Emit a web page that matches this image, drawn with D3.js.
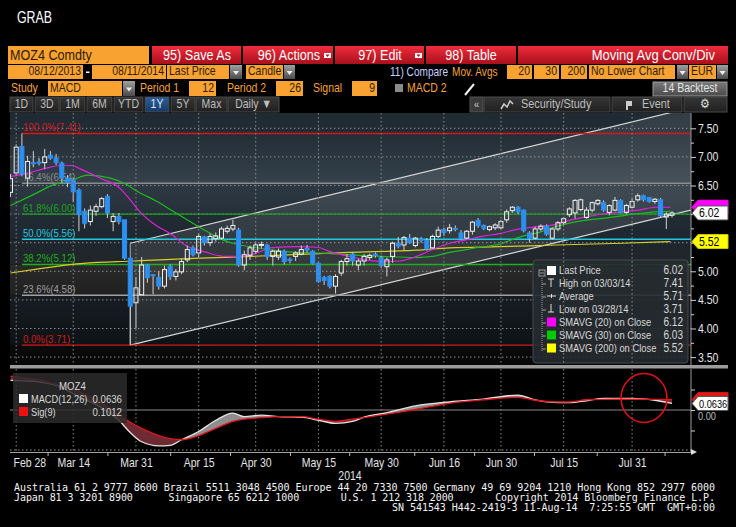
<!DOCTYPE html>
<html><head>
<meta charset="utf-8">
<title>MOZ4 Comdty - MACD</title>
<script src="https://d3js.org/d3.v7.min.js"></script>
<style>
  body { margin:0; background:#000; }
  svg { display:block; font-family:"Liberation Sans", Arial, sans-serif; }
  .mono { font-family:"DejaVu Sans Mono", monospace; white-space:pre; }
</style>
</head>
<body>
<svg id="grab" width="736" height="527"></svg>
<script>

// ---- data ----
const opens  = [6.38,6.72,7.18,6.63,6.90,6.91,6.90,7.03,6.98,6.89, 6.63,6.60,6.42,6.05,5.87,6.05,6.13,6.31,5.87,5.96,
                5.90,5.23,4.45,4.59,5.11,4.94,4.89,4.74,5.09,4.91, 4.99,5.20,5.41,5.32,5.60,5.50,5.57,5.58,5.70,5.74,
                5.72,5.11,5.28,5.35,5.46,5.46,5.26,5.25,5.35,5.21, 5.26,5.30,5.40,5.35,5.14,4.89,4.91,4.74,4.97,5.17,
                5.30,5.11,5.18,5.24,5.30,5.24,5.08,5.26,5.49,5.46, 5.58,5.45,5.56,5.54,5.41,5.61,5.73,5.71,5.75,5.67,
                5.58,5.70,5.89,5.80,5.73,5.76,5.76,5.90,6.06,6.12, 6.07,5.67,5.58,5.74,5.79,5.58,5.74,5.85,5.99,6.02,
                6.08,5.94,6.07,6.18,6.20,6.03,6.07,6.24,6.03,6.12, 6.25,6.32,6.29,6.22,6.25,5.95,5.98];
const highs  = [6.70,7.22,7.41,7.02,7.10,6.98,7.14,7.10,7.05,6.92, 6.68,6.63,6.45,6.10,6.15,6.18,6.30,6.35,6.02,6.02,
                5.90,5.23,4.90,5.25,5.13,4.95,5.00,5.10,5.12,5.04, 5.22,5.45,5.45,5.66,5.62,5.66,5.68,5.78,5.80,5.90,
                5.76,5.36,5.45,5.50,5.52,5.48,5.38,5.40,5.38,5.24, 5.35,5.45,5.46,5.37,5.16,4.92,4.93,4.95,5.20,5.30,
                5.33,5.22,5.30,5.31,5.33,5.27,5.24,5.52,5.60,5.62, 5.65,5.60,5.60,5.58,5.64,5.78,5.76,5.83,5.80,5.72,
                5.72,5.88,5.93,5.82,5.80,5.84,5.90,6.08,6.14,6.14, 6.08,5.70,5.78,5.82,5.82,5.76,5.88,5.95,6.12,6.26,
                6.27,6.12,6.22,6.26,6.24,6.17,6.30,6.26,6.18,6.27, 6.36,6.34,6.30,6.28,6.28,6.03,6.05];
const lows   = [6.30,6.68,6.66,6.48,6.82,6.85,6.79,6.95,6.86,6.55, 6.47,6.22,5.70,5.75,5.80,5.97,6.10,5.93,5.70,5.82,
                5.20,3.71,4.00,4.59,4.80,4.60,4.68,4.70,4.85,4.84, 4.95,5.16,5.26,5.25,5.45,5.44,5.52,5.55,5.66,5.70,
                5.08,5.02,5.20,5.30,5.40,5.20,5.10,5.20,5.12,5.14, 5.18,5.28,5.33,5.12,4.80,4.76,4.70,4.61,4.92,5.10,
                5.10,5.02,5.10,5.20,5.24,5.06,4.91,5.15,5.40,5.36, 5.48,5.42,5.50,5.36,5.40,5.58,5.62,5.66,5.70,5.56,
                5.56,5.64,5.76,5.72,5.70,5.72,5.74,5.85,6.02,6.00, 5.68,5.50,5.56,5.70,5.62,5.55,5.70,5.82,5.95,5.92,
                6.05,5.92,6.03,6.15,6.04,5.98,6.05,6.01,6.00,6.10, 6.22,6.22,6.20,6.18,5.94,5.74,5.94];
const closes = [6.62,7.17,6.70,6.92,6.88,6.89,7.00,6.98,6.90,6.63, 6.55,6.39,5.99,5.84,6.07,6.13,6.27,6.02,5.96,5.87,
                5.23,4.39,4.71,5.11,4.89,4.92,4.74,5.03,4.91,4.99, 5.17,5.38,5.29,5.61,5.50,5.61,5.62,5.74,5.75,5.80,
                5.11,5.29,5.41,5.46,5.47,5.26,5.35,5.35,5.17,5.19, 5.32,5.38,5.37,5.14,4.82,4.84,4.74,4.91,5.17,5.22,
                5.18,5.18,5.26,5.28,5.28,5.10,5.20,5.49,5.44,5.59, 5.50,5.58,5.54,5.39,5.61,5.72,5.68,5.76,5.73,5.58,
                5.70,5.86,5.80,5.75,5.78,5.81,5.87,6.04,6.12,6.04, 5.71,5.58,5.74,5.79,5.65,5.74,5.85,5.92,6.09,6.24,
                6.25,6.07,6.20,6.24,6.07,6.15,6.24,6.03,6.15,6.22, 6.32,6.25,6.22,6.26,5.97,6.00,6.02];

// moving averages, sampled along the bar index
const sma20Idx = [0,2.3,5.8,8.7,10.8,12.2,15.7,19.2,21,22.7,25.4,28.3,30.6,34.1,37.6,40.5,43.4,45.5,50.7,53.7,56.5,59.4,62.4,65.2,68.2,71.2,74,77,79.9,82.7,85.7,89.7,92.7,95.6,98.4,101.4,104.4,107.2,110.1,113.1,115.7];
const sma20Val = [6.66,6.70,6.79,6.85,6.85,6.79,6.63,6.45,6.25,6.04,5.81,5.64,5.46,5.34,5.26,5.26,5.33,5.41,5.43,5.42,5.33,5.26,5.20,5.17,5.18,5.26,5.38,5.49,5.55,5.61,5.66,5.75,5.78,5.82,5.90,5.96,6.01,6.04,6.07,6.12,6.12];
const sma30Idx = [0,4,7.5,11,13.5,17.5,20.5,22.2,25.7,28.5,31.5,34.4,37.2,40.2,42,47.7,53.7,59.4,65.2,71.2,74,77,79.9,82.7,85.7,87,89.7,92.7,95.6,98.4,101.4,104.4,107.2,110.1,113.1,115.7];
const sma30Val = [6.15,6.34,6.51,6.60,6.68,6.63,6.51,6.40,6.22,6.05,5.87,5.70,5.55,5.46,5.43,5.35,5.32,5.29,5.26,5.24,5.26,5.33,5.38,5.43,5.47,5.52,5.61,5.68,5.78,5.85,5.90,5.93,5.97,6.01,6.04,6.05];
const sma200Idx = [0,12.8,21.5,33.2,42,59.4,71.2,77,85.7,95.6,107.2,115.7];
const sma200Val = [4.97,5.14,5.18,5.23,5.26,5.33,5.37,5.41,5.43,5.46,5.49,5.52];

// fibonacci retracement from the 03/03 high to the 03/28 low
const fibPct = ["100.0%","76.4%","61.8%","50.0%","38.2%","23.6%","0.0%"];
const fibVal = [7.41,6.54,6.00,5.56,5.12,4.58,3.71];

// trend channel
const channelIdx  = [21,119.3];
const channelLow  = [3.71,6.07];
const channelHigh = [5.49,7.86];

// MACD study
const macdIdx = [0,4,8,12,16,19,21,23,26,28,30,33,36,39,41,44,47,51,54,57,60,62,66,71,77,83,89,92,95,98,101,104,109,113,116];
const macdVal = [0.29,0.28,0.24,0.13,0.02,-0.10,-0.22,-0.31,-0.35,-0.345,-0.29,-0.21,-0.10,-0.03,-0.065,-0.05,-0.065,-0.07,-0.10,-0.13,-0.11,-0.07,-0.026,0.04,0.08,0.107,0.146,0.098,0.075,0.072,0.09,0.114,0.114,0.095,0.0636];
const sigVal  = [0.33,0.30,0.25,0.18,0.065,-0.05,-0.12,-0.18,-0.25,-0.28,-0.29,-0.25,-0.18,-0.11,-0.09,-0.075,-0.065,-0.065,-0.09,-0.11,-0.09,-0.075,-0.04,0.005,0.065,0.10,0.124,0.095,0.08,0.078,0.10,0.104,0.105,0.104,0.1012];

// x axis
const tickLabels = ["Feb 28","Mar 14","Mar 31","Apr 15","Apr 30","May 15","May 30","Jun 16","Jun 30","Jul 15","Jul 31"];
const tickIdx    = [1,11,22,33,43,54,65,76,86,97,109];
const minorIdx   = [6.5,17,28,38.5,49,59.4,70.8,81.3,91.8,102.8,114.7];

// legend
const legendLabels = ["Last Price","High on 03/03/14","Average","Low on 03/28/14","SMAVG (20) on Close","SMAVG (30) on Close","SMAVG (200) on Close"];
const legendValues = ["6.02","7.41","5.71","3.71","6.12","6.03","5.52"];


// ---- setup ----
const svg = d3.select("#grab");
svg.append("rect").attr("width",736).attr("height",527).attr("fill","#000");
const defs = svg.append("defs");

function vgrad(id, c1, c2) {
  const g = defs.append("linearGradient").attr("id",id).attr("x1",0).attr("y1",0).attr("x2",0).attr("y2",1);
  g.append("stop").attr("offset","0%").attr("stop-color",c1);
  g.append("stop").attr("offset","100%").attr("stop-color",c2);
}
vgrad("redBtn","#f02c3c","#a8101c");
vgrad("greyBtn","#a0a0a0","#4a4a4a");
vgrad("tabBtn","#363636","#202020");
vgrad("blueBtn","#2c5f9a","#173a66");
vgrad("backBtn","#7a7a7a","#4a4a4a");

const plotL = 10, plotR = 691, plotT = 113, plotB = 365;
const macdT = 369, macdB = 452;

const x  = d3.scaleLinear().domain([0,116]).range([10.5,672]);
const y  = d3.scaleLinear().domain([3.5,7.5]).range([357.1,128.3]);
const ym = d3.scaleLinear().domain([-0.4,0.4]).range([451,369]);

defs.append("clipPath").attr("id","priceClip").append("rect")
  .attr("x",plotL).attr("y",plotT).attr("width",plotR-plotL).attr("height",plotB-plotT);
defs.append("clipPath").attr("id","macdClip").append("rect")
  .attr("x",plotL).attr("y",macdT).attr("width",plotR-plotL).attr("height",macdB-macdT);


// ---- toolbar ----
const ORANGE = "#f8a232", OTXT = "#2e1c00";
const bar = svg.append("g");
bar.append("text").attr("x",17).attr("y",23).attr("fill","#fff").attr("font-size",17)
  .attr("textLength",35).attr("lengthAdjust","spacingAndGlyphs").text("GRAB");

function box(x0, x1, y0, y1, fill, label, opts) {
  opts = opts || {};
  bar.append("rect").attr("x",x0).attr("y",y0).attr("width",x1-x0).attr("height",y1-y0)
    .attr("fill",fill).attr("stroke",opts.stroke || "none");
  if (label) {
    const anchor = opts.anchor || "start";
    const tx = opts.tx || (anchor == "start" ? x0+2 : anchor == "end" ? x1-2 : (x0+x1)/2);
    bar.append("text").attr("x",tx).attr("y",y1-3.5).attr("text-anchor",anchor)
      .attr("fill",opts.color || OTXT).attr("font-size",opts.size || 12).text(label);
  }
}
function arrowBox(x0, x1, y0, y1) {
  box(x0, x1, y0, y1, "url(#greyBtn)");
  const cx = (x0+x1)/2, cy = (y0+y1)/2+1;
  bar.append("path").attr("d",`M${cx-3},${cy-2}L${cx+3},${cy-2}L${cx},${cy+2}Z`).attr("fill","#eee");
}

// row 1
box(8,149,46,64,ORANGE,"MOZ4 Comdty",{size:15});
[[152,241,"95) Save As",197],[243,333,"96) Actions",289],[335,424,"97) Edit",380],[426,516,"98) Table",471]].forEach(b => {
  box(b[0],b[1],46,64,"url(#redBtn)",b[2],{anchor:"middle",color:"#fff",size:15,tx:b[3]});
});
[[324,46],[415,46]].forEach(p => {
  bar.append("rect").attr("x",p[0]).attr("y",p[1]+7).attr("width",7).attr("height",5).attr("fill","#fff");
  bar.append("path").attr("d",`M${p[0]+1.5},${p[1]+8.5}L${p[0]+5.5},${p[1]+8.5}L${p[0]+3.5},${p[1]+11}Z`).attr("fill","#a01018");
});
box(518,728,46,64,"url(#redBtn)","Moving Avg Conv/Div",{anchor:"end",color:"#fff",size:15.5,tx:715});

// row 2
box(8,83,65,79,ORANGE,"08/12/2013",{anchor:"end",size:12.5});
bar.append("rect").attr("x",86).attr("y",71.5).attr("width",3.5).attr("height",1.5).attr("fill","#fff");
box(92,166,65,79,ORANGE,"08/11/2014",{anchor:"end",size:12.5});
box(167,229,65,79,ORANGE,"Last Price",{size:12.5});
arrowBox(230,242,65,79);
box(246,283,65,79,ORANGE,"Candle",{size:12.5});
arrowBox(284,295,65,79);
bar.append("text").attr("x",390).attr("y",76).attr("fill","#c6d0ff").attr("font-size",12).text("11) Compare");
bar.append("text").attr("x",452).attr("y",76).attr("fill",ORANGE).attr("font-size",12).text("Mov. Avgs");
box(507,532,65,79,ORANGE,"20",{anchor:"end",size:12.5});
box(534,559,65,79,ORANGE,"30",{anchor:"end",size:12.5});
box(561,587,65,79,ORANGE,"200",{anchor:"end",size:12.5});
box(589,675,65,79,ORANGE,"No Lower Chart",{size:12.5});
arrowBox(677,688,65,79);
box(689,716,65,79,ORANGE,"EUR",{size:12.5});
arrowBox(717,728,65,79);

// row 3
[["Study",11],["Period 1",140],["Period 2",227],["Signal",313],["MACD 2",407]].forEach(t => {
  bar.append("text").attr("x",t[1]).attr("y",92).attr("fill",ORANGE).attr("font-size",12.5).text(t[0]);
});
box(48,122,81,96,ORANGE,"MACD",{size:12.5});
arrowBox(123,135,81,96);
box(189,216,81,96,ORANGE,"12",{anchor:"end",size:12.5});
box(276,303,81,96,ORANGE,"26",{anchor:"end",size:12.5});
box(352,377,81,96,ORANGE,"9",{anchor:"end",size:12.5});
box(395,403,84,92,"#8a8a8a");
bar.append("path").attr("d","M465,95L474,84").attr("stroke","#eee").attr("stroke-width",2);
box(653,727,82,96,"url(#backBtn)","14 Backtest",{anchor:"middle",color:"#e4e4e4",size:12.5,stroke:"#999"});

// row 4
[[10,33,"1D"],[35,59,"3D"],[60,85,"1M"],[87,112,"6M"],[114,143,"YTD"],[145,169,"1Y"],[171,195,"5Y"],[196,227,"Max"],[228,279,"Daily \u25BC"]]
  .forEach(t => {
    box(t[0],t[1],97,112, t[2]=="1Y" ? "url(#blueBtn)" : "url(#tabBtn)", t[2],
        {anchor:"middle",color: t[2]=="1Y" ? "#dde8ff" : "#bdbdbd",size:12.5,stroke:"#4a4a4a"});
  });
box(470,483,97,112,"#3a3a3a","\u00AB",{anchor:"middle",color:"#ccc",size:11,stroke:"#555"});
box(484,610,97,112,"url(#tabBtn)","Security/Study",{color:"#bdbdbd",size:13,stroke:"#4a4a4a",tx:521});
box(612,682,97,112,"url(#tabBtn)","Event",{color:"#bdbdbd",size:13,stroke:"#4a4a4a",tx:642});
box(684,727,97,112,"url(#tabBtn)","\u2699",{anchor:"middle",color:"#ddd",size:13,stroke:"#4a4a4a"});
bar.append("path").attr("d","M501,109L504,104L507,107L510,101L513,104").attr("fill","none").attr("stroke","#ccc").attr("stroke-width",1.5);
bar.append("path").attr("d","M626,101h6v5h-4v4h-2z").attr("fill","#ccc");


// ---- price panel ----
const price = svg.append("g").attr("clip-path","url(#priceClip)");

// background zones between the fib levels
const bandEdges = [7.95].concat(fibVal).concat([3.3]);
const bandCols = [["#1e2a33","#212c35"],["#222d36","#35414b"],["#2d3943","#25303a"],["#222c35","#1e2730"],
                  ["#1d262e","#21262a"],["#2a2a2a","#202020"],["#171d22","#0d1216"],["#0b0b0b","#070707"]];
bandCols.forEach((c,i) => vgrad("band"+i, c[0], c[1]));
price.selectAll("rect.band").data(d3.range(bandEdges.length-1)).join("rect")
  .attr("class","band")
  .attr("x",plotL).attr("width",plotR-plotL)
  .attr("y",i => y(bandEdges[i])).attr("height",i => y(bandEdges[i+1]) - y(bandEdges[i]))
  .attr("fill",i => "url(#band"+i+")");

// dotted grid
const priceTicks = d3.range(3.5,7.51,0.5);
price.selectAll("line.hgrid").data(priceTicks).join("line")
  .attr("x1",plotL).attr("x2",plotR).attr("y1",d => y(d)).attr("y2",d => y(d))
  .attr("stroke","#8a8a8a").attr("stroke-dasharray","1.5,2.5").attr("stroke-width",1);
[[plotT,plotB],[macdT,macdB]].forEach(r => {
  svg.append("g").selectAll("line").data(tickIdx).join("line")
    .attr("x1",d => x(d)).attr("x2",d => x(d)).attr("y1",r[0]).attr("y2",r[1])
    .attr("stroke","#8a8a8a").attr("stroke-dasharray","1.5,2.5");
});

// channel
const chPts = [[channelIdx[0],channelLow[0]],[channelIdx[1],channelLow[1]],[channelIdx[1],channelHigh[1]],[channelIdx[0],channelHigh[0]]];
price.append("path").attr("d","M"+chPts.map(p => x(p[0])+","+y(p[1])).join("L")+"Z")
  .attr("fill","#ffffff").attr("fill-opacity",0.09);
[channelLow, channelHigh].forEach(arr => {
  price.append("line").attr("x1",x(channelIdx[0])).attr("x2",x(channelIdx[1]))
    .attr("y1",y(arr[0])).attr("y2",y(arr[1])).attr("stroke","#d6d6d6").attr("stroke-width",1.2);
});
price.append("line").attr("x1",x(channelIdx[0])).attr("x2",x(channelIdx[0]))
  .attr("y1",y(channelLow[0])).attr("y2",y(channelHigh[0])).attr("stroke","#a8a8a8");

// fib lines
const fibCols = ["#d41a1a","#8c8c8c","#1fa21f","#22c8dc","#1fae1f","#a0a0a0","#d41a1a"];
const fib = price.append("g");
fib.selectAll("line").data(fibVal).join("line")
  .attr("x1",x(2)).attr("x2",plotR).attr("y1",d => y(d)).attr("y2",d => y(d))
  .attr("stroke",(d,i) => fibCols[i]).attr("stroke-width",1.4);
fib.selectAll("text").data(fibVal).join("text")
  .attr("x",x(2)+1).attr("y",d => y(d)-2).attr("font-size",11.5)
  .attr("fill",(d,i) => fibCols[i])
  .text((d,i) => fibPct[i] + "(" + d.toFixed(2) + ")");

// moving averages
const maLine = d3.line().x(d => x(d[0])).y(d => y(d[1])).curve(d3.curveMonotoneX);
[[sma200Idx,sma200Val,"#d6cf22"],[sma30Idx,sma30Val,"#1cbc1c"],[sma20Idx,sma20Val,"#e020e0"]].forEach(m => {
  price.append("path").attr("d",maLine(d3.zip(m[0],m[1])))
    .attr("fill","none").attr("stroke",m[2]).attr("stroke-width",1.2);
});

// candles
const candles = price.append("g");
const bars = d3.range(opens.length);
candles.selectAll("line.wu").data(bars).join("line").attr("class","wu")
  .attr("x1",i => x(i)).attr("x2",i => x(i))
  .attr("y1",i => y(highs[i])).attr("y2",i => y(Math.max(opens[i],closes[i])))
  .attr("stroke","#d2d2d2").attr("stroke-width",1);
candles.selectAll("line.wd").data(bars).join("line").attr("class","wd")
  .attr("x1",i => x(i)).attr("x2",i => x(i))
  .attr("y1",i => y(Math.min(opens[i],closes[i]))).attr("y2",i => y(lows[i]))
  .attr("stroke","#d2d2d2").attr("stroke-width",1);
candles.selectAll("rect").data(bars).join("rect")
  .attr("x",i => x(i)-2).attr("width",4)
  .attr("y",i => y(Math.max(opens[i],closes[i])))
  .attr("height",i => Math.max(1, Math.abs(y(opens[i]) - y(closes[i]))))
  .attr("fill",i => closes[i] >= opens[i] ? "none" : "#2c8ff2")
  .attr("stroke",i => closes[i] >= opens[i] ? "#f2f2f2" : "#2c8ff2")
  .attr("stroke-width",1);

// legend
const leg = price.append("g");
leg.append("rect").attr("x",533).attr("y",260).attr("width",155).attr("height",103).attr("rx",3)
  .attr("fill","#262b30").attr("fill-opacity",0.9).attr("stroke","#454b52");
const legCols = [null,null,null,null,"#ff00ff","#00cc00","#ffff00"];
const rowY = i => 274 + i*13;
leg.append("path").attr("d","M542,278V352").attr("stroke","#9a9a9a").attr("stroke-dasharray","1,1");
leg.selectAll("path.br").data(d3.range(1,7)).join("path").attr("class","br")
  .attr("d",i => `M542,${rowY(i)-3}h4`).attr("stroke","#9a9a9a");
leg.append("rect").attr("x",539).attr("y",270).attr("width",6).attr("height",6).attr("fill","none").attr("stroke","#9a9a9a");
leg.append("path").attr("d","M540,273h4").attr("stroke","#9a9a9a");
leg.append("rect").attr("x",547).attr("y",266).attr("width",9).attr("height",9).attr("fill","#fff");
leg.append("path").attr("d",`M548,${rowY(1)-8}h6M551,${rowY(1)-8}v8`).attr("stroke","#ddd");
leg.append("path").attr("d",`M547,${rowY(2)-4}h9M551.5,${rowY(2)-6}v4`).attr("stroke","#ddd");
leg.append("path").attr("d",`M551,${rowY(3)-9}v8M548,${rowY(3)-1}h6`).attr("stroke","#ddd");
leg.selectAll("rect.sw").data(d3.range(4,7)).join("rect").attr("class","sw")
  .attr("x",547).attr("y",i => rowY(i)-8.5).attr("width",9).attr("height",9).attr("fill",i => legCols[i]);
leg.selectAll("text.lab").data(legendLabels).join("text").attr("class","lab")
  .attr("x",559).attr("y",(d,i) => rowY(i)).attr("font-size",11.2).attr("fill","#d8d8d8").text(d => d);
leg.selectAll("text.val").data(legendValues).join("text").attr("class","val")
  .attr("x",683).attr("y",(d,i) => rowY(i)).attr("text-anchor","end").attr("font-size",12).attr("fill","#d8d8d8").text(d => d);

// right price axis (6.00 and 5.50 sit under the value tags)
svg.append("line").attr("x1",plotR).attr("x2",plotR).attr("y1",plotT).attr("y2",plotB).attr("stroke","#9a9a9a");
const yAxis = d3.axisRight(y).tickValues(priceTicks).tickSize(5).tickPadding(2).tickSizeOuter(0)
  .tickFormat(d => (d == 6 || d == 5.5) ? "" : d3.format(".2f")(d));
const ya = svg.append("g").attr("transform","translate("+plotR+",0)").call(yAxis);
ya.select(".domain").remove();
ya.selectAll("line").attr("stroke","#cfcfcf");
ya.selectAll("text").attr("fill","#e6e6e6").attr("font-size",12.5).attr("font-family","Liberation Sans, Arial");
const yMinor = svg.append("g").attr("transform","translate("+plotR+",0)")
  .call(d3.axisRight(y).tickValues(d3.range(3.75,7.5,0.5)).tickFormat("").tickSize(3).tickSizeOuter(0));
yMinor.select(".domain").remove();
yMinor.selectAll("line").attr("stroke","#cfcfcf");

// value tags on the right
function tag(yc, fill, stroke, label, size) {
  svg.append("path").attr("d",`M692,${yc}L698,${yc-7}L728,${yc-7}L728,${yc+7}L698,${yc+7}Z`)
    .attr("fill",fill).attr("stroke",stroke).attr("stroke-width",1);
  if (label) svg.append("text").attr("x",699).attr("y",yc+4.5).attr("font-size",size || 12.5).attr("fill","#000").text(label);
}
tag(y(6.12),"#ff00ff","#ff00ff","");
tag(y(6.02),"#ffffff","#555","6.02");
tag(y(5.52),"#ffff00","#cccc00","5.52");

// separator
svg.append("rect").attr("x",plotL).attr("y",plotB).attr("width",718).attr("height",3.5).attr("fill","#9c9c9c");


// ---- MACD panel ----
const macd = svg.append("g").attr("clip-path","url(#macdClip)");
const mPts = d3.range(macdIdx.length);
macd.append("line").attr("x1",plotL).attr("x2",plotR).attr("y1",ym(0)).attr("y2",ym(0)).attr("stroke","#8a8a8a");

const sigTop = d3.area().x(i => x(macdIdx[i])).y0(macdT).y1(i => ym(sigVal[i])).curve(d3.curveMonotoneX);
const sigBot = d3.area().x(i => x(macdIdx[i])).y0(macdB).y1(i => ym(sigVal[i])).curve(d3.curveMonotoneX);
defs.append("clipPath").attr("id","aboveSig").append("path").attr("d",sigTop(mPts));
defs.append("clipPath").attr("id","belowSig").append("path").attr("d",sigBot(mPts));

const between = d3.area().x(i => x(macdIdx[i])).y0(i => ym(sigVal[i])).y1(i => ym(macdVal[i])).curve(d3.curveMonotoneX);
macd.append("path").attr("d",between(mPts)).attr("fill","#8e8e8e").attr("clip-path","url(#aboveSig)");
macd.append("path").attr("d",between(mPts)).attr("fill","#6e2a33").attr("clip-path","url(#belowSig)");

const mLine = (vals) => d3.line().x(i => x(macdIdx[i])).y(i => ym(vals[i])).curve(d3.curveMonotoneX)(mPts);
macd.append("path").attr("d",mLine(macdVal)).attr("fill","none").attr("stroke","#e4e4e4").attr("stroke-width",1.3);
macd.append("path").attr("d",mLine(sigVal)).attr("fill","none").attr("stroke","#e4141c").attr("stroke-width",1.3);

// MACD legend
const ml = svg.append("g");
ml.append("rect").attr("x",13).attr("y",373).attr("width",114).attr("height",50).attr("fill","#2c2c2c").attr("fill-opacity",0.85);
ml.append("text").attr("x",59).attr("y",390).attr("font-size",11.5).attr("fill","#d8d8d8").text("MOZ4");
ml.append("rect").attr("x",19).attr("y",394).attr("width",9).attr("height",9).attr("fill","#fff");
ml.append("rect").attr("x",19).attr("y",407).attr("width",9).attr("height",9).attr("fill","#ee1111");
ml.append("text").attr("x",31).attr("y",403).attr("font-size",11).attr("fill","#d8d8d8").text("MACD(12,26)");
ml.append("text").attr("x",31).attr("y",416).attr("font-size",11).attr("fill","#d8d8d8").text("Sig(9)");
ml.append("text").attr("x",122).attr("y",403).attr("text-anchor","end").attr("font-size",11.5).attr("fill","#d8d8d8").text("0.0636");
ml.append("text").attr("x",122).attr("y",416).attr("text-anchor","end").attr("font-size",11.5).attr("fill","#d8d8d8").text("0.1012");

// MACD right axis
svg.append("line").attr("x1",plotR).attr("x2",plotR).attr("y1",macdT).attr("y2",macdB).attr("stroke","#9a9a9a");
const ma = svg.append("g").attr("transform","translate("+plotR+",0)")
  .call(d3.axisRight(ym).tickValues([-0.2,0,0.2]).tickFormat(d => d == 0 ? "0.00" : "").tickSize(4).tickPadding(3).tickSizeOuter(0));
ma.select(".domain").remove();
ma.selectAll("line").attr("stroke","#cfcfcf");
ma.selectAll("text").attr("fill","#bbb").attr("font-size",11).attr("dy","0.85em");
tag(ym(0.1012),"#e01818","#e01818","");
tag(ym(0.0636),"#ffffff","#555","0.0636",11);

// circled crossover
svg.append("ellipse").attr("cx",644).attr("cy",398).attr("rx",23).attr("ry",24.5)
  .attr("fill","none").attr("stroke","#e01010").attr("stroke-width",1.6);

// date axis
svg.append("line").attr("x1",plotL).attr("x2",plotR).attr("y1",450).attr("y2",450)
  .attr("stroke","#9a9a9a").attr("stroke-dasharray","1.5,2.5");
const xa = svg.append("g").attr("transform","translate(0,"+macdB+")")
  .call(d3.axisBottom(x).tickValues(tickIdx).tickFormat((d,i) => tickLabels[i]).tickSize(0).tickPadding(6).tickSizeOuter(0));
xa.select(".domain").attr("d","M"+plotL+",0.5H"+plotR).attr("stroke","#a0a0a0");
xa.selectAll("text").attr("fill","#e4e4e4").attr("font-size",12.5).attr("font-family","Liberation Sans, Arial");
xa.select(".tick text").attr("text-anchor","start").attr("x",3 - x(tickIdx[0]) + 10);
svg.append("path").attr("d","M691,449L697,452L691,455Z").attr("fill","#ddd");
const xm = svg.append("g").attr("transform","translate(0,"+macdB+")")
  .call(d3.axisBottom(x).tickValues(minorIdx).tickFormat("").tickSize(4).tickSizeOuter(0));
xm.select(".domain").remove();
xm.selectAll("line").attr("stroke","#bbb");
svg.append("text").attr("x",350).attr("y",480).attr("text-anchor","middle").attr("font-size",12.5).attr("fill","#e4e4e4").text("2014");


// ---- footer ----
const foot = [
  "Australia 61 2 9777 8600 Brazil 5511 3048 4500 Europe 44 20 7330 7500 Germany 49 69 9204 1210 Hong Kong 852 2977 6000",
  "Japan 81 3 3201 8900      Singapore 65 6212 1000       U.S. 1 212 318 2000       Copyright 2014 Bloomberg Finance L.P."
];
foot.forEach((t,i) => {
  svg.append("text").attr("class","mono").attr("xml:space","preserve")
    .attr("x",14).attr("y",491 + i*10).attr("font-size",10).attr("fill","#f4f4f4")
    .attr("textLength",701).attr("lengthAdjust","spacing").text(t);
});
svg.append("text").attr("class","mono").attr("xml:space","preserve")
  .attr("x",392).attr("y",511).attr("font-size",10).attr("fill","#f4f4f4")
  .attr("textLength",323).attr("lengthAdjust","spacing").text("SN 541543 H442-2419-3 11-Aug-14  7:25:55 GMT  GMT+0:00");

// Bloomberg's screen font is narrow: squeeze the remaining labels horizontally
// (scale about the label's own anchor point so it stays in place)
const squeeze = 0.84;
svg.selectAll("text").each(function() {
  const t = d3.select(this);
  if (t.classed("mono") || t.attr("textLength")) return;
  const x0 = +(t.attr("x") || 0);
  t.attr("x", x0 / squeeze).attr("transform", "scale(" + squeeze + ",1)");
});

</script>
</body>
</html>
